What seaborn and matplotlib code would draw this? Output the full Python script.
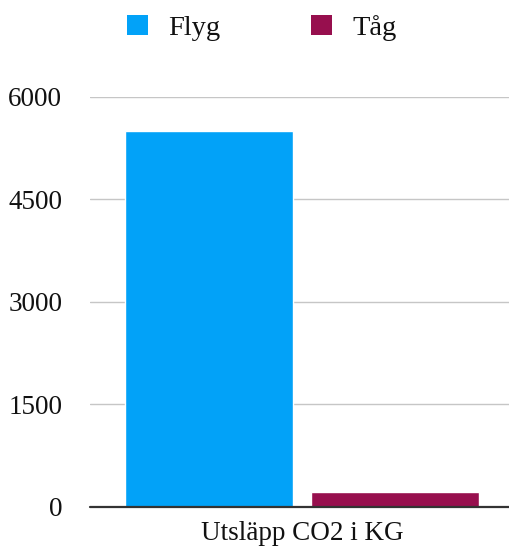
import matplotlib
matplotlib.use("Agg")
import matplotlib.pyplot as plt
from matplotlib.patches import Patch
import seaborn as sns
import pandas as pd

categories = ["Utsläpp CO2 i KG"]
series = ["Flyg", "Tåg"]
values = [5500, 215]
colors = ["#02A2F8", "#970F4E"]
yticks = [0, 1500, 3000, 4500, 6000]

df = pd.DataFrame({
    "kategori": categories * len(series),
    "färdmedel": series,
    "kg": values,
})

sns.set_theme(style="white")
plt.rcParams["font.family"] = ["Liberation Serif", "DejaVu Serif"]

fig = plt.figure(figsize=(5.10, 5.47), dpi=100)
ax = fig.add_axes([90 / 510, 40 / 547, 420 / 510, 410.5 / 547])

palette = dict(zip(series, colors))
sns.barplot(data=df, x="kategori", y="kg", hue="färdmedel", palette=palette,
            width=0.886, gap=0.097, saturation=1, ax=ax, legend=False)

ax.set_xlim(-0.505, 0.495)
ax.set_ylim(0, 6000)
ax.set_yticks(yticks)
ax.set_yticklabels([str(t) for t in yticks])
ax.yaxis.grid(True, color="#c6c6c6", linewidth=1)
ax.set_axisbelow(True)
ax.axhline(0, color="#333333", linewidth=1.6, zorder=5, clip_on=False)
for s in ax.spines.values():
    s.set_visible(False)
ax.tick_params(axis="y", length=0, pad=20, labelsize=19.5, labelcolor="#111111")
ax.tick_params(axis="x", length=0, pad=10, labelsize=19.5, labelcolor="#111111")
ax.set_xlabel("")
ax.set_ylabel("")

handles = [Patch(facecolor=palette[s], edgecolor="none", label=s) for s in series]
fig.legend(handles=handles, loc="center", bbox_to_anchor=(262 / 510, 1 - 28 / 547),
           ncol=2, frameon=False, fontsize=20.5, handlelength=0.72, handleheight=0.72,
           handletextpad=0.72, columnspacing=3.2, labelcolor="#111111")

fig.savefig("out.png", dpi=100)
